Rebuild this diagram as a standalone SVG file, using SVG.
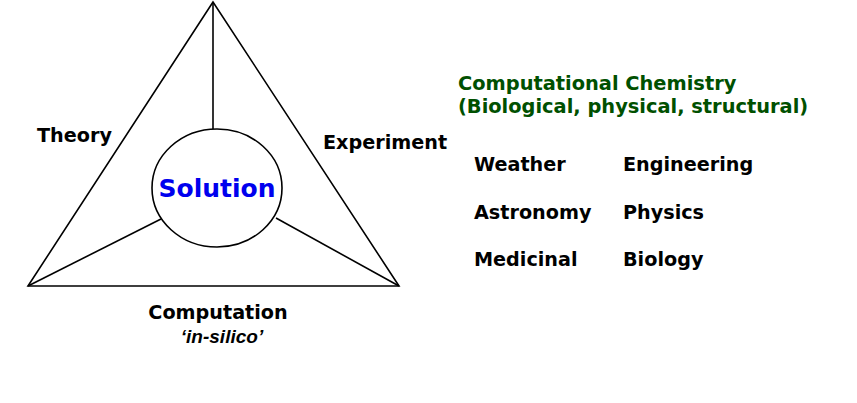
<svg xmlns="http://www.w3.org/2000/svg" width="857" height="403" viewBox="0 0 857 403">
<style>
.t{font-family:"DejaVu Sans",Verdana,sans-serif;font-weight:bold;font-size:19.2px;fill:#000}
.g{font-family:"DejaVu Sans",Verdana,sans-serif;font-weight:bold;font-size:19.4px;fill:#005000}
.ln{stroke:#000;stroke-width:1.6;fill:none}
</style>
<rect width="857" height="403" fill="#fff"/>
<g id="connectors">
<path class="ln" d="M213,2 L28,286 L399,286 Z"/>
<line class="ln" x1="213" y1="2" x2="213" y2="129"/>
<line class="ln" x1="28" y1="286" x2="161" y2="219"/>
<line class="ln" x1="399" y1="286" x2="276" y2="218"/>
</g>
<g id="solution">
<ellipse class="ln" cx="217" cy="188" rx="65" ry="59" fill="#fff"/>
<text x="217" y="197" text-anchor="middle" style="font-family:'DejaVu Sans',Verdana,sans-serif;font-weight:bold;font-size:25px;fill:#0000ee">Solution</text>
</g>
<g id="theory"><text class="t" x="37" y="142">Theory</text></g>
<g id="experiment"><text class="t" x="323" y="149">Experiment</text></g>
<g id="computation">
<text class="t" x="218" y="319" text-anchor="middle">Computation</text>
<text x="222" y="343" text-anchor="middle" style="font-family:'Liberation Sans',Arial,sans-serif;font-weight:bold;font-style:italic;font-size:19px">‘in-silico’</text>
</g>
<g id="chem">
<text class="g" x="458" y="90">Computational Chemistry</text>
<text class="g" x="458" y="113">(Biological, physical, structural)</text>
</g>
<g id="fields">
<text class="t" x="474" y="171">Weather</text>
<text class="t" x="623" y="171">Engineering</text>
<text class="t" x="474" y="219">Astronomy</text>
<text class="t" x="623" y="219">Physics</text>
<text class="t" x="474" y="266">Medicinal</text>
<text class="t" x="623" y="266">Biology</text>
</g>
</svg>
